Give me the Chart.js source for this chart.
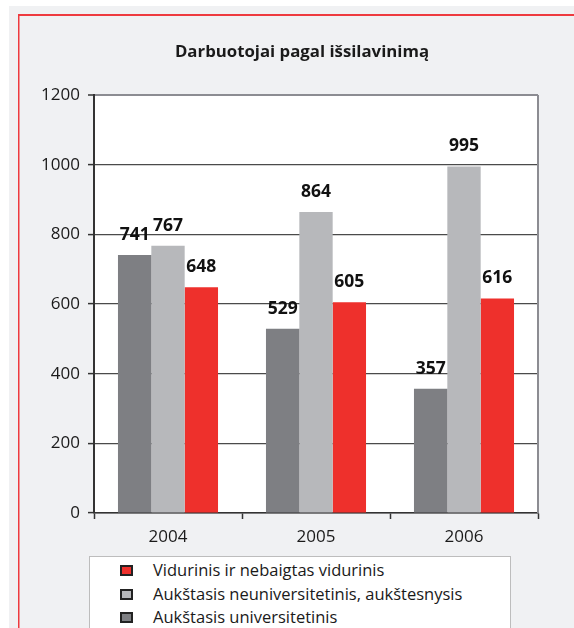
<!DOCTYPE html>
<html>
<head>
<meta charset="utf-8">
<script src="https://cdn.jsdelivr.net/npm/chart.js@4"></script>
<style>
  html, body { margin: 0; padding: 0; background: #fff; }
  #wrap { position: relative; width: 574px; height: 628px; overflow: hidden; }
  #legend {
    position: absolute; left: 89px; top: 556px; width: 422px; height: 90px;
    background: #fff; border: 1px solid #bdbdbd; box-sizing: border-box;
    font-family: "Open Sans", sans-serif; font-size: 16.5px; color: #1a1a1a;
  }
  .item { position: absolute; left: 30px; height: 20px; line-height: 20px; white-space: nowrap; }
  .box { position: absolute; left: 0; top: 4px; width: 13px; height: 11px; border: 2px solid #222; box-sizing: border-box; }
  .lbl { position: absolute; left: 33px; top: -1px; }
</style>
</head>
<body>
<div id="wrap">
  <canvas id="myChart" width="574" height="628"></canvas>
  <div id="legend"></div>
</div>
<script>
const years = ['2004', '2005', '2006'];
const seriesNames = ['Aukštasis universitetinis', 'Aukštasis neuniversitetinis, aukštesnysis', 'Vidurinis ir nebaigtas vidurinis'];
const universitetinis = [741, 529, 357];
const neuniversitetinis = [767, 864, 995];
const vidurinis = [648, 605, 616];
const yTicks = [0, 200, 400, 600, 800, 1000, 1200];
const colors = ['#7e7f83', '#b7b8bb', '#ee302c'];
const title = 'Darbuotojai pagal išsilavinimą';

const framePlugin = {
  id: 'frame',
  beforeDraw(chart) {
    const ctx = chart.ctx;
    const a = chart.chartArea;
    ctx.save();
    ctx.fillStyle = '#fff';
    ctx.fillRect(0, 0, chart.width, chart.height);
    ctx.fillStyle = '#f0f1f3';
    ctx.fillRect(9, 6, chart.width - 9, chart.height - 6);
    ctx.fillStyle = '#ee3a3f';
    ctx.fillRect(18, 14, chart.width - 18, 2);
    ctx.fillRect(18, 14, 1.5, chart.height - 14);
    ctx.fillStyle = '#fff';
    ctx.fillRect(a.left, a.top, a.right - a.left, a.bottom - a.top);
    ctx.fillStyle = '#1a1a1a';
    ctx.font = 'bold 16.8px "Open Sans"';
    ctx.textAlign = 'center';
    ctx.textBaseline = 'alphabetic';
    ctx.fillText(title, 302, 57);
    ctx.restore();
  },
  beforeDatasetsDraw(chart) {
    const ctx = chart.ctx;
    const a = chart.chartArea;
    ctx.save();
    ctx.strokeStyle = '#8c8c92';
    ctx.lineWidth = 2;
    ctx.beginPath();
    ctx.moveTo(a.right, a.top);
    ctx.lineTo(a.right, a.bottom);
    ctx.stroke();
    ctx.restore();
  },
  afterDatasetsDraw(chart) {
    const ctx = chart.ctx;
    ctx.save();
    ctx.fillStyle = '#111';
    ctx.font = 'bold 17.5px "Open Sans"';
    ctx.textAlign = 'center';
    ctx.textBaseline = 'middle';
    chart.data.datasets.forEach((ds, i) => {
      chart.getDatasetMeta(i).data.forEach((bar, j) => {
        ctx.fillText(ds.data[j], bar.x, bar.y - 20);
      });
    });
    ctx.restore();
  }
};

const chart = new Chart(document.getElementById('myChart'), {
  type: 'bar',
  data: {
    labels: years,
    datasets: [
      { label: seriesNames[0], data: universitetinis, backgroundColor: colors[0] },
      { label: seriesNames[1], data: neuniversitetinis, backgroundColor: colors[1] },
      { label: seriesNames[2], data: vidurinis, backgroundColor: colors[2] }
    ]
  },
  options: {
    responsive: false,
    animation: false,
    layout: { padding: { top: 95, right: 36, bottom: 75, left: 0 } },
    datasets: { bar: { barPercentage: 1, categoryPercentage: 0.676 } },
    plugins: { legend: { display: false }, title: { display: false }, tooltip: { enabled: false } },
    scales: {
      x: {
        afterFit(scale) { scale.height = 40; },
        border: { display: true, color: '#333', width: 1.5 },
        grid: { offset: true, drawOnChartArea: false, drawTicks: true, tickLength: 6, color: '#333', tickWidth: 1.5 },
        ticks: { color: '#1a1a1a', padding: 8, font: { family: 'Open Sans', size: 17 } }
      },
      y: {
        min: 0, max: 1200,
        afterFit(scale) { scale.width = 94; },
        afterBuildTicks(scale) { scale.ticks = yTicks.map(v => ({ value: v })); },
        border: { display: true, color: '#333', width: 2 },
        grid: {
          color: c => c.tick && c.tick.value === 1200 ? '#8c8c92' : '#4a4a4a',
          lineWidth: c => c.tick && c.tick.value === 1200 ? 2 : 1.2,
          tickColor: '#333', tickLength: 6, tickWidth: 1.5
        },
        ticks: { color: '#1a1a1a', padding: 8, font: { family: 'Open Sans', size: 17 }, callback: v => String(v) }
      }
    }
  },
  plugins: [framePlugin]
});

const legend = document.getElementById('legend');
const tops = [4, 28, 51];
chart.data.datasets.slice().reverse().forEach((ds, i) => {
  const item = document.createElement('div');
  item.className = 'item';
  item.style.top = tops[i] + 'px';
  const box = document.createElement('div');
  box.className = 'box';
  box.style.background = ds.backgroundColor;
  const lbl = document.createElement('span');
  lbl.className = 'lbl';
  lbl.textContent = ds.label;
  item.appendChild(box);
  item.appendChild(lbl);
  legend.appendChild(item);
});
</script>
</body>
</html>
